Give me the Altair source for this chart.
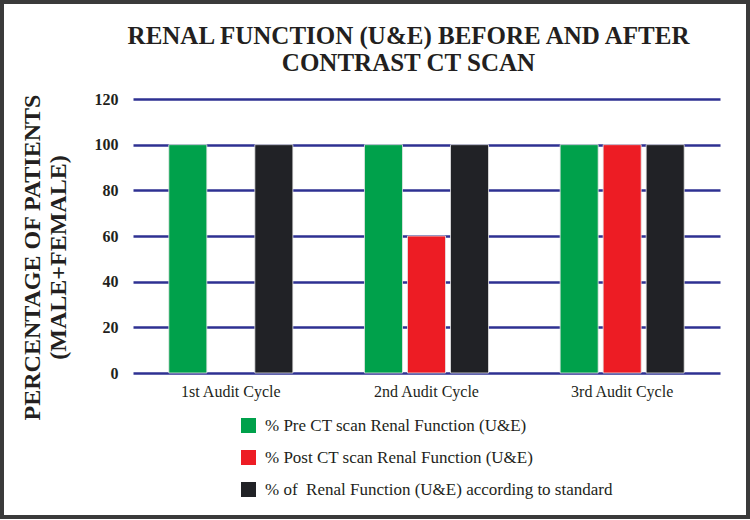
import altair as alt
import pandas as pd

cycles = ["1st Audit Cycle", "2nd Audit Cycle", "3rd Audit Cycle"]
series = [
    "% Pre CT scan Renal Function (U&E)",
    "% Post CT scan Renal Function (U&E)",
    "% of\u00a0 Renal Function (U&E) according to standard",
]
pre_values = [100, 100, 100]
post_values = [0, 60, 100]
standard_values = [100, 100, 100]
colors = ["#00a14b", "#ed1c24", "#212226"]
y_ticks = [0, 20, 40, 60, 80, 100, 120]

rows = []
for i, c in enumerate(cycles):
    for s, vals in zip(series, [pre_values, post_values, standard_values]):
        rows.append({"cycle": c, "series": s, "value": vals[i]})
df = pd.DataFrame(rows)

serif = "Liberation Serif"
W, H = 587, 274

bars = alt.Chart(df).transform_filter("datum.value > 0").mark_bar(
    stroke="#e6e6e6", strokeWidth=0.8
).encode(
    x=alt.X("cycle:N", sort=cycles,
            scale=alt.Scale(domain=cycles, paddingInner=0.366, paddingOuter=0.183),
            axis=alt.Axis(title=None, labelAngle=0, labelFont=serif, labelFontSize=16,
                          labelColor="#231f20", labelPadding=10, domain=False, ticks=False)),
    xOffset=alt.XOffset("series:N", sort=series,
                        scale=alt.Scale(domain=series, paddingInner=0.116, paddingOuter=0)),
    y=alt.Y("value:Q", scale=alt.Scale(domain=[0, 120], nice=False),
            axis=alt.Axis(values=y_ticks, title=["PERCENTAGE OF PATIENTS", "(MALE+FEMALE)"],
                          titleFont=serif, titleFontSize=24, titleFontWeight="bold",
                          titleColor="#231f20", titleAngle=-90, titleX=-94, titleY=158,
                          titleAlign="center", titleBaseline="alphabetic", titleLineHeight=26,
                          labelFont=serif, labelFontSize=16, labelFontWeight="bold",
                          labelColor="#231f20", labelPadding=15,
                          grid=True, gridColor="#2e3192", gridWidth=2.5, gridOpacity=1,
                          domain=False, ticks=False)),
    color=alt.Color("series:N", sort=series,
                    scale=alt.Scale(domain=series, range=colors),
                    legend=alt.Legend(title=None, orient="none", legendX=107, legendY=318,
                                      direction="vertical", symbolType="square", symbolSize=225,
                                      symbolStrokeWidth=0, symbolOpacity=1,
                                      labelFont=serif, labelFontSize=17, labelColor="#231f20",
                                      labelOffset=8, rowPadding=14, padding=0, labelLimit=600)),
)

frame = alt.Chart(pd.DataFrame({"a": [0]})).mark_rect(
    fillOpacity=0, stroke="#3a3a3a", strokeWidth=4, clip=False
).encode(x=alt.value(-131), x2=alt.value(615), y=alt.value(-97), y2=alt.value(418))

chart = alt.layer(bars, frame).properties(
    width=W, height=H,
    padding={"left": 133, "top": 99, "right": 30, "bottom": 147},
    autosize=alt.AutoSizeParams(type="none"),
    background="white",
    title=alt.TitleParams(
        text=["RENAL FUNCTION (U&E) BEFORE AND AFTER", "CONTRAST CT SCAN"],
        font=serif, fontSize=25, fontWeight="bold", color="#231f20",
        anchor="middle", dx=-18, offset=-76, lineHeight=27,
    ),
).configure_view(stroke=None)

chart.save("out.html", embed_options={"renderer": "svg", "actions": False})
